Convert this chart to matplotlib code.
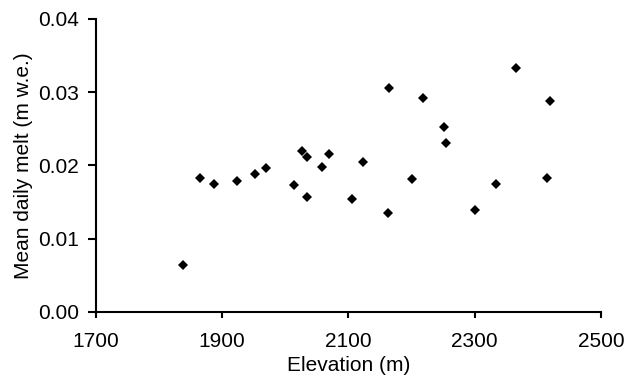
import matplotlib
matplotlib.use("Agg")
import matplotlib.pyplot as plt

plt.rcParams['font.family'] = ['Liberation Sans', 'DejaVu Sans']

elevation = [1838, 1865, 1887, 1924, 1952, 1969, 2014, 2027, 2034, 2035,
             2059, 2070, 2106, 2123, 2162, 2165, 2201, 2218, 2252, 2255,
             2300, 2334, 2366, 2414, 2420]
melt = [0.0064, 0.0183, 0.01745, 0.0178, 0.0188, 0.0197, 0.01735, 0.0220, 0.0157, 0.0212,
        0.0198, 0.0216, 0.01535, 0.02045, 0.01352, 0.0305, 0.0181, 0.0292, 0.0253, 0.0231,
        0.01385, 0.0174, 0.0333, 0.0182, 0.0288]
xticks = [1700, 1900, 2100, 2300, 2500]
yticks = [0.00, 0.01, 0.02, 0.03, 0.04]

fig = plt.figure(figsize=(6.26, 3.77), dpi=100)
ax = fig.add_axes([0.153, 0.173, 0.807, 0.777])
ax.plot(elevation, melt, linestyle='none', marker='D', markersize=4.8,
        color='black', markeredgewidth=0)
ax.set_xlim(1700, 2500)
ax.set_ylim(0, 0.04)
ax.set_xticks(xticks)
ax.set_yticks(yticks)
ax.set_yticklabels([f"{v:.2f}" for v in yticks])
for s in ['top', 'right']:
    ax.spines[s].set_visible(False)
for s in ['left', 'bottom']:
    ax.spines[s].set_linewidth(1.5)
    ax.spines[s].set_color('black')
ax.tick_params(axis='x', direction='out', length=4.5, width=1.5, labelsize=15,
               color='black', pad=10)
ax.tick_params(axis='y', direction='out', length=6, width=1.5, labelsize=15,
               color='black', pad=6)
ax.set_xlabel('Elevation (m)', fontsize=15, labelpad=4)
ax.set_ylabel('Mean daily melt (m w.e.)', fontsize=15, labelpad=4)
fig.savefig('out.png', dpi=100)
